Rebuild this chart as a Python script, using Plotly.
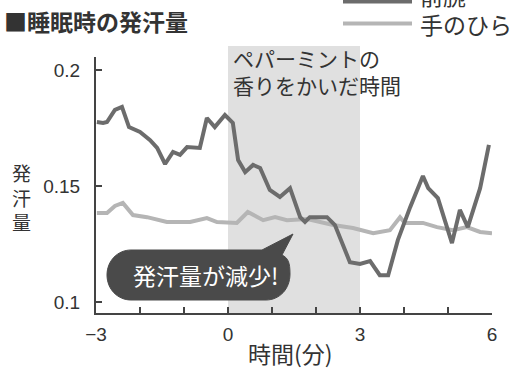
import plotly.graph_objects as go

# ---- data ----
forearm_t = [-2.98, -2.84, -2.75, -2.57, -2.41, -2.25, -2.0, -1.77, -1.61, -1.43, -1.25, -1.09,
             -0.93, -0.64, -0.48, -0.30, -0.07, 0.11, 0.23, 0.39, 0.57, 0.73, 0.95, 1.18, 1.41,
             1.64, 1.75, 1.86, 2.25, 2.43, 2.77, 3.0, 3.23, 3.45, 3.64, 3.86, 4.14, 4.43, 4.55,
             4.77, 5.09, 5.27, 5.45, 5.73, 5.93]
forearm_v = [0.1776, 0.1772, 0.1776, 0.1828, 0.1841, 0.1754, 0.1733, 0.1698, 0.1664, 0.1595,
             0.1647, 0.1634, 0.1668, 0.1664, 0.1793, 0.1754, 0.1806, 0.1772, 0.1612, 0.1560,
             0.1591, 0.1578, 0.1483, 0.1453, 0.1491, 0.1366, 0.1345, 0.1366, 0.1366, 0.1332,
             0.1172, 0.1164, 0.1177, 0.1116, 0.1116, 0.1267, 0.1409, 0.1543, 0.1491, 0.1448,
             0.1254, 0.1397, 0.1323, 0.1491, 0.1677]
palm_t = [-2.98, -2.75, -2.57, -2.39, -2.16, -1.84, -1.39, -0.86, -0.48, -0.25, 0.20, 0.45,
          0.80, 1.07, 1.34, 1.80, 2.39, 2.84, 3.30, 3.68, 3.91, 4.02, 4.43, 4.75, 5.11, 5.43,
          5.73, 6.0]
palm_v = [0.1384, 0.1384, 0.1414, 0.1427, 0.1375, 0.1366, 0.1345, 0.1345, 0.1362, 0.1345,
          0.1341, 0.1388, 0.1353, 0.1366, 0.1353, 0.1358, 0.1332, 0.1319, 0.1297, 0.1310,
          0.1366, 0.1341, 0.1341, 0.1323, 0.1310, 0.1323, 0.1302, 0.1297]
series_names = ["前腕", "手のひら"]
x_ticks = [-3, 0, 3, 6]
y_ticks = [0.1, 0.15, 0.2]
y_tick_text = ["0.1", "0.15", "0.2"]
scent_start, scent_end = 0, 3

W, H = 514, 370
L, R, T, B = 96, 22, 57, 57
PW, PH = W - L - R, H - T - B

def px(xp):
    return (xp - L) / PW

def py(yp):
    return (H - B - yp) / PH

DARK = "#6c6c6c"
LIGHT = "#b5b5b5"
TXT = "#333333"
FONT = "Liberation Sans, Noto Sans CJK JP, sans-serif"
JFONT = "Noto Sans CJK JP, sans-serif"

fig = go.Figure()
fig.add_trace(go.Scatter(x=palm_t, y=palm_v, mode="lines", name=series_names[1],
                         line=dict(color=LIGHT, width=4), showlegend=False))
fig.add_trace(go.Scatter(x=forearm_t, y=forearm_v, mode="lines", name=series_names[0],
                         line=dict(color=DARK, width=4), showlegend=False))

# shaded period
fig.add_shape(type="rect", xref="x", yref="paper", x0=scent_start, x1=scent_end,
              y0=0, y1=py(46), fillcolor="#e0e0e0", line_width=0, layer="below")

# speech bubble (pixel geometry converted to paper coords)
x0, x1, y0, y1, r = 107, 290, 250, 300, 24
k = 0.5523 * r
pts = [
    f"M {px(x0 + r)},{py(y0)}",
    f"L {px(262)},{py(y0)}",
    f"L {px(293)},{py(234)}",
    f"L {px(282)},{py(255)}",
    f"C {px(x1 - 2)},{py(258)} {px(x1)},{py(262)} {px(x1)},{py(y0 + r)}",
    f"C {px(x1)},{py(y1 - r + k)} {px(x1 - r + k)},{py(y1)} {px(x1 - r)},{py(y1)}",
    f"L {px(x0 + r)},{py(y1)}",
    f"C {px(x0 + r - k)},{py(y1)} {px(x0)},{py(y1 - r + k)} {px(x0)},{py((y0 + y1) / 2)}",
    f"C {px(x0)},{py(y0 + r - k)} {px(x0 + r - k)},{py(y0)} {px(x0 + r)},{py(y0)}",
    "Z",
]
fig.add_shape(type="path", xref="paper", yref="paper", path=" ".join(pts),
              fillcolor="#4a4a4a", line=dict(color="#4a4a4a", width=1), layer="above")

def txt(text, x, y, size, xanchor="center", color=TXT, bold=False, align="center"):
    return dict(text=text, x=px(x), y=py(y), xref="paper", yref="paper",
                xanchor=xanchor, yanchor="middle", align=align, showarrow=False,
                font=dict(family=JFONT, size=size, color=color,
                          weight="bold" if bold else "normal"))

ann = [
    txt("発汗量が減少!", 205, 275, 23, color="white"),
    txt("ペパーミントの<br>香りをかいだ時間", 231, 71, 21, xanchor="left", align="left"),
    txt("■睡眠時の発汗量", 2, 21, 23, xanchor="left", bold=True),
    txt("発<br>汗<br>量", 21, 197, 19),
    txt("時間(分)", 290, 353, 23),
    txt(series_names[0], 418, -5, 23, xanchor="left"),
    txt(series_names[1], 418, 24, 23, xanchor="left"),
]
fig.add_shape(type="line", xref="paper", yref="paper", x0=px(343), x1=px(412), y0=py(1.5),
              y1=py(1.5), line=dict(color=DARK, width=4))
fig.add_shape(type="line", xref="paper", yref="paper", x0=px(343), x1=px(412), y0=py(23.5),
              y1=py(23.5), line=dict(color=LIGHT, width=4))

fig.update_layout(
    width=W, height=H, margin=dict(l=L, r=R, t=T, b=B),
    paper_bgcolor="white", plot_bgcolor="rgba(0,0,0,0)",
    annotations=ann, showlegend=False,
    font=dict(family=FONT, color=TXT),
)
fig.update_xaxes(range=[-3, 6], tickvals=x_ticks, ticks="inside", ticklen=6, tickwidth=1.5,
                 tickcolor="#444", showline=True, linecolor="#444", linewidth=2,
                 showgrid=False, zeroline=False, tickfont=dict(size=19, color=TXT),
                 ticklabelstandoff=3,
                 minor=dict(dtick=1, ticks="inside", ticklen=6, tickwidth=1.5, tickcolor="#444",
                            showgrid=False))
fig.update_yaxes(range=[0.0953, 0.2056], tickvals=y_ticks, ticktext=y_tick_text, ticks="inside",
                 ticklen=6, tickwidth=1.5, tickcolor="#444", showline=True, linecolor="#444",
                 linewidth=2, showgrid=False, zeroline=False, tickfont=dict(size=19, color=TXT),
                 ticklabelstandoff=10)

fig.write_html("out.html")
